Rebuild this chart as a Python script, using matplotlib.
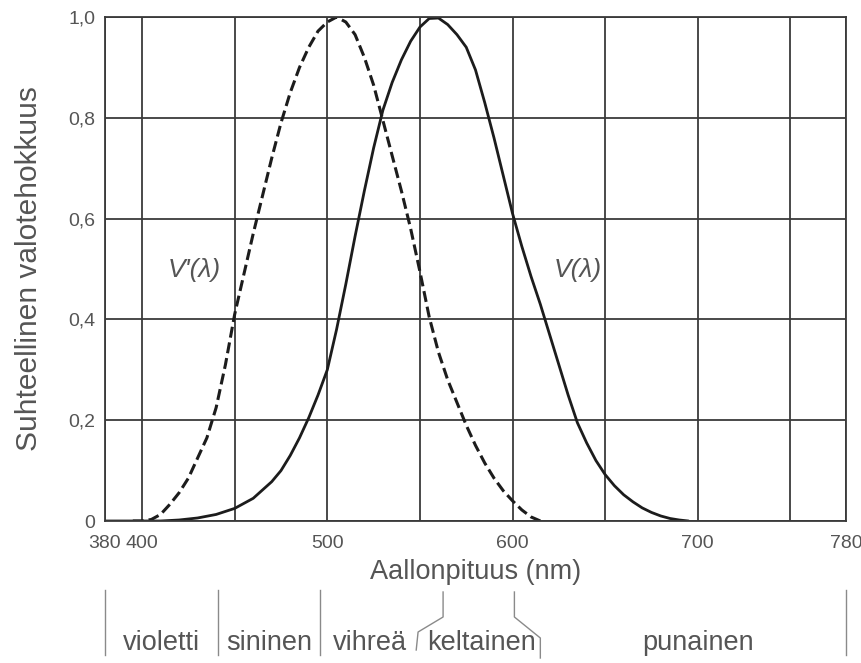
import numpy as np
import matplotlib.pyplot as plt

plt.rcParams['font.family'] = ['Liberation Sans', 'DejaVu Sans']

# Photopic curve V(lambda)
wl_v = [380, 400, 410, 420, 430, 440, 450, 460, 470, 475, 480, 485, 490,
        495, 500, 505, 510, 515, 520, 525, 530, 535, 540, 545, 550, 555,
        560, 565, 570, 575, 580, 585, 590, 595, 600, 605, 610, 615, 620,
        625, 630, 635, 640, 645, 650, 655, 660, 665, 670, 675, 680, 685,
        690, 695]
v_phot = [0, 0, 0, 0.002, 0.006, 0.013, 0.025, 0.045, 0.078, 0.10, 0.13,
          0.165, 0.205, 0.25, 0.30, 0.38, 0.47, 0.565, 0.655, 0.74, 0.815,
          0.87, 0.915, 0.952, 0.98, 0.997, 0.998, 0.985, 0.965, 0.94, 0.895,
          0.83, 0.76, 0.685, 0.61, 0.545, 0.485, 0.43, 0.37, 0.31, 0.25,
          0.195, 0.155, 0.12, 0.092, 0.07, 0.052, 0.038, 0.026, 0.017, 0.01,
          0.005, 0.002, 0.0]

# Scotopic curve V'(lambda)
wl_s = [395, 400, 405, 410, 415, 420, 425, 430, 435, 440, 445, 450, 455,
        460, 465, 470, 475, 480, 485, 490, 495, 500, 505, 510, 515, 520,
        525, 530, 535, 540, 545, 550, 555, 560, 565, 570, 575, 580, 585,
        590, 595, 600, 605, 610, 615]
v_scot = [0, 0, 0.003, 0.013, 0.033, 0.056, 0.085, 0.125, 0.165, 0.225,
          0.31, 0.41, 0.49, 0.57, 0.645, 0.72, 0.79, 0.85, 0.90, 0.94, 0.972,
          0.99, 1.0, 0.99, 0.965, 0.92, 0.865, 0.795, 0.725, 0.655, 0.58,
          0.495, 0.405, 0.335, 0.28, 0.235, 0.19, 0.15, 0.115, 0.085, 0.06,
          0.04, 0.022, 0.008, 0.0]

x_ticks = [380, 400, 500, 600, 700, 780]
y_ticks = [0, 0.2, 0.4, 0.6, 0.8, 1.0]
y_ticklabels = ['0', '0,2', '0,4', '0,6', '0,8', '1,0']

# colour bands below the axis
band_names = ['violetti', 'sininen', 'vihreä', 'keltainen', 'punainen']
band_centres = [410.5, 468.5, 523, 583.5, 700]
band_edges = [380, 441, 496, 780]

text_col = '#555555'
line_col = '#1c1c1c'
grid_col = '#3a3a3a'

fig = plt.figure(figsize=(8.62, 6.63), dpi=100)
ax = fig.add_axes([105 / 862, 1 - 521 / 663, 741 / 862, 504 / 663])

ax.plot(wl_v, v_phot, color=line_col, lw=2.0, solid_capstyle='round')
ax.plot(wl_s, v_scot, color=line_col, lw=2.2, linestyle=(0, (3.6, 1.6)))

ax.set_xlim(380, 780)
ax.set_ylim(0, 1.0)
ax.set_xticks(x_ticks)
ax.set_yticks(y_ticks)
ax.set_yticklabels(y_ticklabels)
ax.set_xticks(range(400, 780, 50), minor=True)
ax.grid(True, which='both', axis='x', color=grid_col, lw=1.3)
ax.grid(True, which='major', axis='y', color=grid_col, lw=1.3)
ax.tick_params(length=0, which='both', labelcolor=text_col, labelsize=14)
ax.tick_params(axis='x', pad=10)
ax.tick_params(axis='y', pad=7)
for s in ax.spines.values():
    s.set_color(grid_col)
    s.set_linewidth(1.3)

ax.set_xlabel('Aallonpituus (nm)', fontsize=19.5, color=text_col, labelpad=5)
ax.set_ylabel('Suhteellinen valotehokkuus', fontsize=21.5, color=text_col,
              labelpad=18)

ax.text(428, 0.498, "V'(λ)", fontsize=19, style='italic', color=text_col,
        ha='center', va='center')
ax.text(635, 0.498, 'V(λ)', fontsize=19, style='italic', color=text_col,
        ha='center', va='center')

# spectrum bands: x in data, y in figure pixels below the axis
tr = ax.get_xaxis_transform()
fy = lambda py: (521 - py) / 504
sep_kw = dict(color='#8a8a8a', lw=1.0, transform=tr, clip_on=False)
for e in band_edges:
    ax.plot([e, e], [fy(590), fy(655)], **sep_kw)
# yellow brackets
ax.plot([562.5, 562.5, 549, 548], [fy(592), fy(617), fy(632), fy(650)], **sep_kw)
ax.plot([601, 601, 615, 615], [fy(592), fy(617), fy(638), fy(658)], **sep_kw)

for name, c in zip(band_names, band_centres):
    ax.text(c, fy(643), name, transform=tr, fontsize=19.5, color=text_col,
            ha='center', va='center')

fig.savefig('out.png', dpi=100)
